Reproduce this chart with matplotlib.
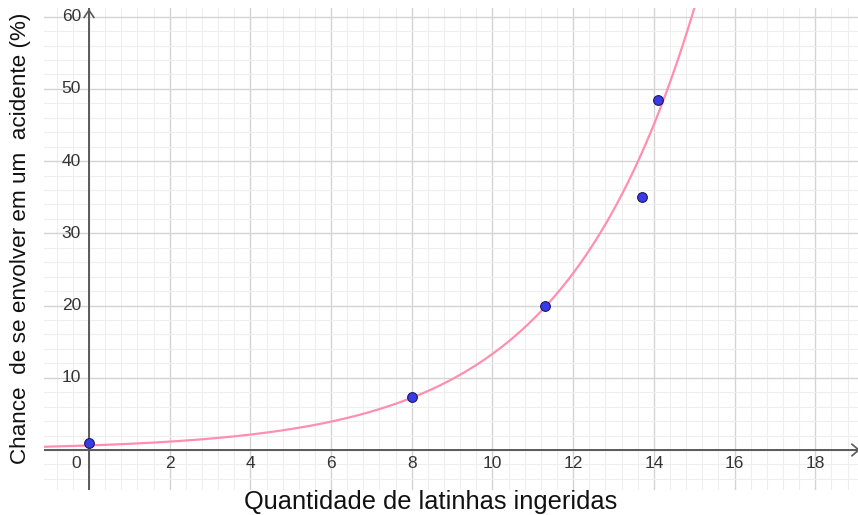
import numpy as np
import matplotlib.pyplot as plt
from matplotlib.ticker import MultipleLocator

# pontos observados
latinhas = [0.0, 8.0, 11.3, 13.7, 14.1]
chance = [1.0, 7.3, 20.0, 35.0, 48.4]

# curva exponencial ajustada (y = a * e^(k x))
a_fit = 0.63
k_fit = 0.305

x_ticks = [2, 4, 6, 8, 10, 12, 14, 16, 18]
y_ticks = [10, 20, 30, 40, 50, 60]

plt.rcParams['font.family'] = ['Liberation Sans', 'DejaVu Sans']

fig = plt.figure(figsize=(8.58, 5.15), dpi=100)
ax = fig.add_axes([44 / 858, 25 / 515, 1 - 44 / 858, 482 / 515])

xmin, xmax = -1.115, 19.06
ymin, ymax = -5.54, 61.2
ax.set_xlim(xmin, xmax)
ax.set_ylim(ymin, ymax)

# grade
ax.xaxis.set_major_locator(MultipleLocator(2))
ax.xaxis.set_minor_locator(MultipleLocator(0.4))
ax.yaxis.set_major_locator(MultipleLocator(10))
ax.yaxis.set_minor_locator(MultipleLocator(2))
ax.grid(which='major', color='#d4d4d4', lw=1.0)
ax.grid(which='minor', color='#eeeeee', lw=0.8)
ax.set_axisbelow(True)
ax.tick_params(which='both', length=0, labelbottom=False, labelleft=False)
for s in ax.spines.values():
    s.set_visible(False)

# eixos
ax.axhline(0, color='#5a5a5a', lw=1.4, zorder=2)
ax.axvline(0, color='#5a5a5a', lw=1.4, zorder=2)
ax.plot([-0.12, 0, 0.12], [ymax - 1.3, ymax - 0.3, ymax - 1.3], color='#5a5a5a', lw=1.2, clip_on=False, zorder=2)
ax.plot([xmax - 0.15, xmax + 0.02, xmax - 0.15], [0.8, 0, -0.8], color='#5a5a5a', lw=1.2, clip_on=False, zorder=2)

# rótulos dos ticks
for t in x_ticks:
    ax.text(t, -1.9, str(t), ha='center', va='center', fontsize=12.5, color='#333333')
ax.text(-0.32, -1.9, '0', ha='center', va='center', fontsize=12.5, color='#333333')
for t in y_ticks:
    ax.text(-0.2, t, str(t), ha='right', va='center', fontsize=12.5, color='#333333')

# curva
xs = np.linspace(xmin, xmax, 600)
ax.plot(xs, a_fit * np.exp(k_fit * xs), color='#ff8fb0', lw=1.6, zorder=3)

# pontos
ax.plot(latinhas, chance, 'o', ms=7, color='#3a3ae6', mec='#1a1a66', mew=0.8, zorder=4)

fig.text(21 / 858, 1 - 238 / 515, 'Chance  de se envolver em um  acidente (%)', rotation=90,
         ha='center', va='center', fontsize=16.2, color='#111111')
fig.text(431 / 858, 1 / 515, 'Quantidade de latinhas ingeridas',
         ha='center', va='bottom', fontsize=18.3, color='#111111')

fig.savefig('out.png', dpi=100)
